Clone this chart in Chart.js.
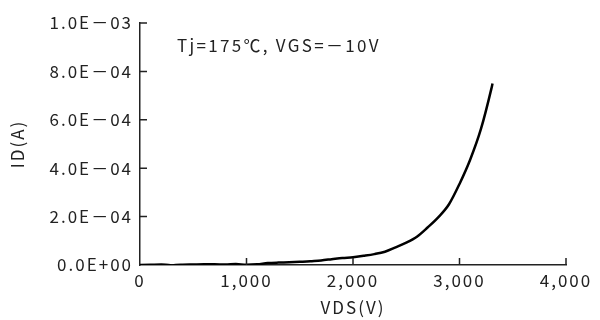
<!DOCTYPE html>
<html>
<head>
<meta charset="utf-8">
<script src="https://cdn.jsdelivr.net/npm/chart.js@4"></script>
<style>
  html, body { margin: 0; padding: 0; background: #fff; }
  #wrap { width: 600px; height: 320px; }
</style>
</head>
<body>
<div id="wrap"><canvas id="ivChart"></canvas></div>
<script>
// VDS (V) vs ID (A)
vds = [0, 100, 200, 300, 400, 500, 600, 700, 800, 900, 1000, 1100, 1200, 1300, 1400, 1500, 1600, 1700, 1800, 1900, 2000, 2100, 2200, 2300, 2400, 2500, 2600, 2700, 2800, 2900, 3000, 3100, 3200, 3300, 3310];
idA = [0, 1e-6, 2e-6, -2e-6, 1e-6, 2e-6, 3e-6, 3e-6, 2e-6, 4e-6, 1e-6, 3e-6, 8e-6, 1.0e-5, 1.1e-5, 1.3e-5, 1.6e-5, 1.9e-5, 2.4e-5, 2.9e-5, 3.2e-5, 3.8e-5, 4.5e-5, 5.5e-5, 7.3e-5, 9.2e-5, 1.17e-4, 1.55e-4, 1.97e-4, 2.5e-4, 3.35e-4, 4.35e-4, 5.6e-4, 7.3e-4, 7.5e-4];
xTickLabels = ['0', '1,000', '2,000', '3,000', '4,000'];
yTickLabels = ['0.0E+00', '2.0E\uFF0D04', '4.0E\uFF0D04', '6.0E\uFF0D04', '8.0E\uFF0D04', '1.0E\uFF0D03'];
noteText = 'Tj=175\u2103, VGS=\uFF0D10V';

const FONT = "'Noto Sans CJK JP', 'Noto Sans', sans-serif";
const INK = '#222';
const SPACING = '2px';

points = vds.map((v, i) => ({ x: v, y: idA[i] }));

// wide letter spacing like the original, inward tick marks, condition note
const extras = {
    id: 'extras',
    beforeUpdate(chart) { chart.ctx.letterSpacing = SPACING; },
    beforeDraw(chart) { chart.ctx.letterSpacing = SPACING; },
    afterDraw(chart) {
        const ctx = chart.ctx;
        const a = chart.chartArea;
        const xs = chart.scales.x, ys = chart.scales.y;
        ctx.save();
        ctx.strokeStyle = INK;
        ctx.lineWidth = 1.5;
        ctx.beginPath();
        xs.ticks.forEach((t, i) => {
            if (i == 0) return;
            const px = xs.getPixelForTick(i);
            ctx.moveTo(px, a.bottom);
            ctx.lineTo(px, a.bottom - 7);
        });
        ys.ticks.forEach((t, i) => {
            if (i == 0) return;
            const py = ys.getPixelForTick(i);
            ctx.moveTo(a.left, py);
            ctx.lineTo(a.left + 7, py);
        });
        ctx.stroke();
        ctx.fillStyle = INK;
        ctx.font = '17px ' + FONT;
        ctx.letterSpacing = '2.3px';
        ctx.textBaseline = 'alphabetic';
        ctx.fillText(noteText, a.left + 37, a.top + 29);
        ctx.restore();
    }
};

const config = {
    type: 'line',
    data: {
        datasets: [{
            data: points,
            borderColor: '#000',
            borderWidth: 2.5,
            pointRadius: 0,
            fill: false,
            cubicInterpolationMode: 'monotone'
        }]
    },
    options: {
        responsive: true,
        maintainAspectRatio: false,
        animation: false,
        layout: { padding: { top: 23, right: 34, left: 0, bottom: 0 } },
        plugins: { legend: { display: false }, tooltip: { enabled: false } },
        scales: {
            x: {
                type: 'linear',
                min: 0,
                max: 4000,
                afterBuildTicks: (s) => { s.ticks = xTickLabels.map((l, i) => ({ value: i * 1000 })); },
                afterFit: (s) => { s.height = 55; },
                grid: { display: true, drawOnChartArea: false, drawTicks: false },
                border: { display: true, color: INK, width: 1.5 },
                ticks: {
                    padding: 5,
                    color: INK,
                    font: { family: FONT, size: 17 },
                    maxRotation: 0,
                    callback: (v, i) => xTickLabels[i]
                },
                title: {
                    display: true,
                    text: 'VDS(V)',
                    color: INK,
                    font: { family: FONT, size: 17 },
                    padding: { top: 0, bottom: 2 }
                }
            },
            y: {
                type: 'linear',
                min: 0,
                max: 1e-3,
                afterBuildTicks: (s) => { s.ticks = yTickLabels.map((l, i) => ({ value: i * 2e-4 })); },
                afterFit: (s) => { s.width = 140; },
                grid: { display: true, drawOnChartArea: false, drawTicks: false },
                border: { display: true, color: INK, width: 1.5 },
                ticks: {
                    padding: 7,
                    color: INK,
                    font: { family: FONT, size: 17 },
                    callback: (v, i) => yTickLabels[i]
                },
                title: {
                    display: true,
                    text: 'ID(A)',
                    color: INK,
                    font: { family: FONT, size: 17 },
                    padding: { top: 7, bottom: 0 }
                }
            }
        }
    },
    plugins: [extras]
};

ivChart = new Chart(document.getElementById('ivChart'), config);
</script>
</body>
</html>
